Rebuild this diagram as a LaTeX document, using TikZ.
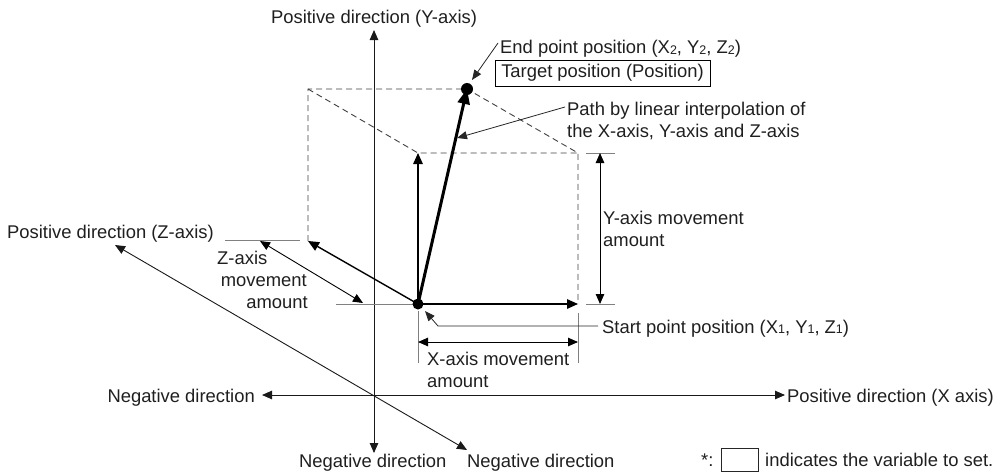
\documentclass[tikz,border=0pt]{standalone}
\usepackage{fontspec}
\setmainfont{Liberation Sans}
\usetikzlibrary{arrows.meta}
\newcommand\mysub[1]{\raisebox{-0.6pt}{\fontsize{12.5}{12.5}\selectfont #1}}
\begin{document}
\begin{tikzpicture}[x=1pt,y=-1pt,
  lbl/.style={font=\fontsize{18.4}{22}\selectfont, inner sep=0pt, text=black!88},
  axisline/.style={line width=0.9pt, draw=black!90, {Triangle[length=10pt,width=8.5pt]}-{Triangle[length=10pt,width=8.5pt]}},
  moveline/.style={line width=1.4pt, -{Triangle[length=11pt,width=9.5pt]}},
  pathline/.style={line width=3pt, -{Triangle[length=15pt,width=12pt]}},
  dashbox/.style={line width=0.9pt, draw=black!75, dash pattern=on 6pt off 4pt},
  extline/.style={line width=1pt, draw=black!50},
  dimline/.style={line width=0.9pt, {Triangle[length=10pt,width=8.5pt]}-{Triangle[length=10pt,width=8.5pt]}},
  leader/.style={line width=0.8pt, draw=black!85, -{Triangle[length=10pt,width=8pt]}}
]
\useasboundingbox (0,0) rectangle (998,471);

% key points
\coordinate (S) at (418,304);
\coordinate (E) at (467,89);
\coordinate (F1) at (418,153);
\coordinate (F2) at (578,153);
\coordinate (F3) at (578,304);
\coordinate (B1) at (308,89);
\coordinate (B2) at (308,241);

% axes
\coordinate (ytop) at (374,30);
\coordinate (ybot) at (374,453);
\coordinate (xl) at (262,395);
\coordinate (xr) at (785,395);
\coordinate (zt) at (115,245);
\coordinate (zb) at (467,450);
\draw[axisline] (ybot) -- (ytop);
\draw[axisline] (xl) -- (xr);
\draw[axisline] (zt) -- (zb);

% axis labels
\node[lbl, anchor=base] (ypos) at (374,23.5) {Positive direction (Y-axis)};
\node[lbl, anchor=base east] (xneg) at (255,402) {Negative direction};
\node[lbl, anchor=base west] (xpos) at (787,402) {Positive direction (X axis)};
\node[lbl, anchor=base west] (zpos) at (7,238.5) {Positive direction (Z-axis)};
\node[lbl, anchor=base west] (yneg) at (299,467.5) {Negative direction};
\node[lbl, anchor=base west] (zneg) at (467,467.5) {Negative direction};

% dashed box
\draw[dashbox] (B2) -- (B1) -- (E) -- (F2) -- (F3);
\draw[dashbox] (B1) -- (F1) -- (F2);

% extension lines
\draw[extline] (586,153) -- (615,153);
\draw[extline] (586,304) -- (615,304);
\draw[extline] (418,311) -- (418,363);
\draw[extline] (578,313) -- (578,363);
\draw[extline] (225,240) -- (300,240);
\draw[extline] (336,304) -- (413,304);

% dimension arrows
\coordinate (yd1) at (600,153);
\coordinate (yd2) at (600,304);
\draw[dimline] (yd1) -- (yd2);
\coordinate (xd1) at (418,342);
\coordinate (xd2) at (578,342);
\draw[dimline] (xd1) -- (xd2);
\coordinate (zd1) at (260,241);
\coordinate (zd2) at (363,303);
\draw[dimline] (zd1) -- (zd2);

% movement arrows
\draw[moveline] (S) -- (F1);
\draw[moveline] (S) -- (F3);
\draw[moveline] (S) -- (B2);
\draw[pathline] (S) -- (E);
\fill (S) circle (5.5pt);
\fill (E) circle (6pt);

% dimension labels (base anchor = last line)
\node[lbl, anchor=base west, align=left] (ymv) at (603,246) {Y-axis movement\\amount};
\node[lbl, anchor=base west, align=left] (xmv) at (427,387) {X-axis movement\\amount};
\node[lbl, anchor=base west] (zmv1) at (217,264.5) {Z-axis};
\node[lbl, anchor=base east] (zmv2) at (307,286.5) {movement};
\node[lbl, anchor=base east] (zmv3) at (308,308.5) {amount};

% end point
\node[lbl, anchor=base west] (endlbl) at (500,53.5) {End point position (X\mysub{2}, Y\mysub{2}, Z\mysub{2})};
\node[lbl, draw=black, line width=0.9pt, minimum width=215pt, minimum height=26pt, inner xsep=4pt, text height=13.5pt, text depth=4pt] (target) at (602.5,73) {Target position (Position)};
\coordinate (el) at (498,43);
\coordinate (etip) at (472,80);
\draw[leader] (el) -- (etip);

% path label
\node[lbl, anchor=base west, align=left] (pathlbl) at (567,137.5) {Path by linear interpolation of\\the X-axis, Y-axis and Z-axis};
\coordinate (pl) at (565,107);
\coordinate (ptip) at (457,138);
\draw[leader] (pl) -- (ptip);

% start point
\node[lbl, anchor=base west] (startlbl) at (602,333) {Start point position (X\mysub{1}, Y\mysub{1}, Z\mysub{1})};
\coordinate (sl) at (598,326);
\coordinate (sk) at (438,326);
\coordinate (stip) at (425,311);
\draw[leader] (sl) -- (sk) -- (stip);

% note
\node[lbl, anchor=base west] (star) at (701,466.5) {*:};
\node[draw=black!85, line width=0.9pt, minimum width=37pt, minimum height=23pt, inner sep=0pt] (notebox) at (739.5,459.5) {};
\node[lbl, anchor=base west] (notetxt) at (765,466.5) {indicates the variable to set.};
\end{tikzpicture}
\end{document}
